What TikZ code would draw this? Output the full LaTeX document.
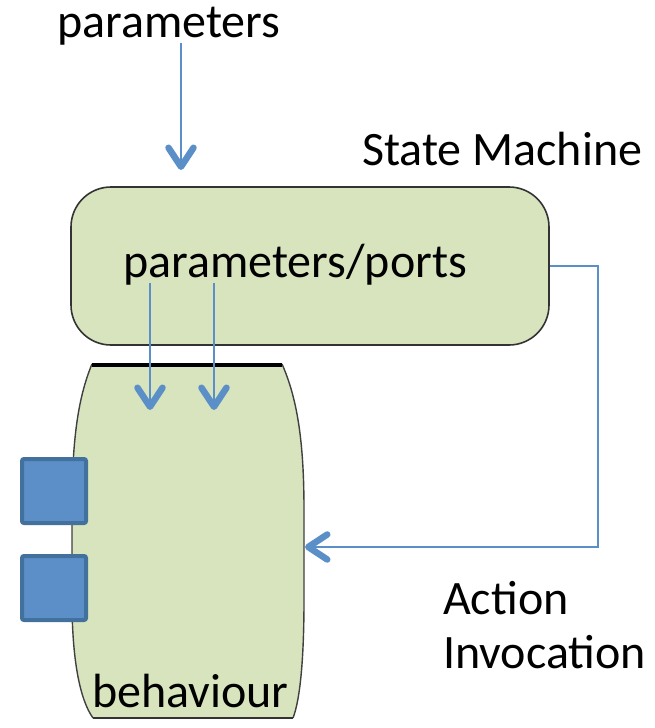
\documentclass[tikz,border=0pt]{standalone}
\usepackage{fontspec}
\setmainfont{Carlito}
\usetikzlibrary{arrows.meta}
\definecolor{boxfill}{RGB}{215,228,189}
\definecolor{flow}{RGB}{91,143,200}
\definecolor{portfill}{RGB}{92,143,199}
\definecolor{portedge}{RGB}{65,113,156}
\begin{document}
\begin{tikzpicture}[x=1pt,y=-1pt,
  lbl/.style={font=\fontsize{48}{58}\selectfont, inner sep=0pt, anchor=base west},
  flowtip/.style={-{Straight Barb[length=19pt,width=25pt,line width=6.5pt,round]}},
  flowline/.style={draw=flow, line width=2pt, flowtip},
  thinflow/.style={draw=flow, line width=1.6pt, flowtip},
  smbox/.style={draw=black!80, fill=boxfill, line width=1.6pt, rounded corners=40pt,
                minimum width=478pt, minimum height=158pt, inner sep=0pt},
  port/.style={draw=portedge, fill=portfill, line width=4pt, rounded corners=2pt,
               minimum size=64pt, inner sep=0pt}]
\useasboundingbox (0,0) rectangle (654,728);

% state machine
\node[smbox] (sm) at (310,266) {};
\node[lbl] (smports) at (123,277) {parameters/ports};
\node[lbl] (smname) at (362,165) {State Machine};

% behaviour body
\fill[boxfill] (92,364) .. controls (77,400) and (72,445) .. (72,510) -- (72,600)
  .. controls (72,660) and (80,700) .. (93,718) -- (293,718)
  .. controls (300,700) and (304,660) .. (304,600) -- (304,510)
  .. controls (304,445) and (298,400) .. (282,364) -- cycle;
\draw[black!75, line width=1.4pt] (92,364) .. controls (77,400) and (72,445) .. (72,510) -- (72,600)
  .. controls (72,660) and (80,700) .. (93,718);
\draw[black!75, line width=1.4pt] (282,364) .. controls (298,400) and (304,445) .. (304,510) -- (304,600)
  .. controls (304,660) and (300,700) .. (293,718);
\draw[black, line width=4pt] (92,365) -- (282,365);
\draw[black!80, line width=1.6pt] (93,718) -- (293,718);
\node[lbl] (behname) at (92,707) {behaviour};
\coordinate (behin) at (305,547);

% ports
\node[port] (p1) at (54,491) {};
\node[port] (p2) at (54,588) {};

% inputs
\node[lbl] (params) at (57,37) {parameters};
\coordinate (paramsrc) at (181,43);
\coordinate (paramdst) at (181,170);
\draw[flowline] (paramsrc) -- (paramdst);

\coordinate (a1s) at (150,283);
\coordinate (a1e) at (150,410);
\coordinate (a2s) at (214,283);
\coordinate (a2e) at (214,410);
\draw[flowline] (a1s) -- (a1e);
\draw[flowline] (a2s) -- (a2e);

% action invocation
\draw[thinflow] (sm.east) -- ++(48,0) |- (behin);
\node[lbl] (act1) at (443,614) {Action};
\node[lbl] (act2) at (443,668) {Invocation};
\end{tikzpicture}
\end{document}
